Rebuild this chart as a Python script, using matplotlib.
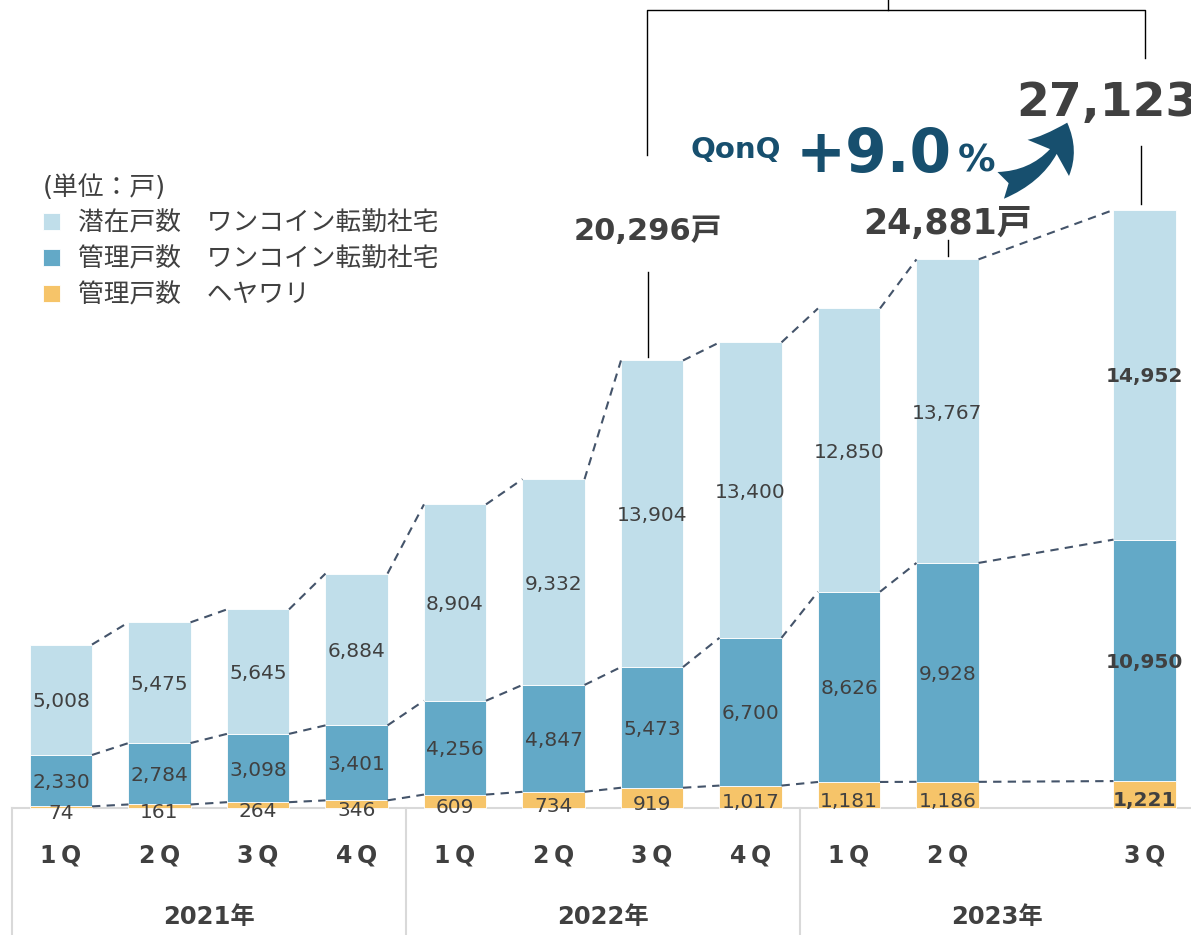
import numpy as np
import matplotlib.pyplot as plt
from matplotlib.patches import FancyArrowPatch

plt.rcParams['font.family'] = ['DejaVu Sans', 'Noto Sans CJK JP']

# data
quarters = ['1Q', '2Q', '3Q', '4Q', '1Q', '2Q', '3Q', '4Q', '1Q', '2Q', '3Q']
slots = np.array([0, 1, 2, 3, 4, 5, 6, 7, 8, 9, 11])
years = ['2021年', '2022年', '2023年']
year_edges = [(-0.5, 3.5), (3.5, 7.5), (7.5, 11.5)]
heyawari = np.array([74, 161, 264, 346, 609, 734, 919, 1017, 1181, 1186, 1221])
kanri = np.array([2330, 2784, 3098, 3401, 4256, 4847, 5473, 6700, 8626, 9928, 10950])
senzai = np.array([5008, 5475, 5645, 6884, 8904, 9332, 13904, 13400, 12850, 13767, 14952])
labels = ['潜在戸数　ワンコイン転勤社宅', '管理戸数　ワンコイン転勤社宅', '管理戸数　ヘヤワリ']

c_light = '#c0deea'
c_mid = '#63a9c7'
c_orange = '#f6c469'
c_text = '#404040'
c_dash = '#44546a'
c_navy = '#174f6e'

W, H = 1191, 935
x0, dxs = 61, 98.5      # pixel of slot 0, pixels per slot
y0, k = 808, 0.02205    # pixel of value 0, pixels per unit


def px(x, y):
    return (x - x0) / dxs, (y0 - y) / k


fig = plt.figure(figsize=(W / 100, H / 100), dpi=100)
ax = fig.add_axes([0, 0, 1, 1])
ax.set_xlim(px(0, 0)[0], px(W, 0)[0])
ax.set_ylim(px(0, H)[1], px(0, 0)[1])
ax.axis('off')

bw = 0.63
b3 = ax.bar(slots, heyawari, bw, color=c_orange, edgecolor='white', lw=0.6, label=labels[2])
b2 = ax.bar(slots, kanri, bw, bottom=heyawari, color=c_mid, edgecolor='white', lw=0.6, label=labels[1])
b1 = ax.bar(slots, senzai, bw, bottom=heyawari + kanri, color=c_light, edgecolor='white', lw=0.6, label=labels[0])

# dashed connectors
lv1 = heyawari
lv2 = heyawari + kanri
lv3 = lv2 + senzai
for lv in (lv1, lv2, lv3):
    for i in range(len(slots) - 1):
        ax.plot([slots[i] + bw / 2, slots[i + 1] - bw / 2], [lv[i], lv[i + 1]],
                color=c_dash, lw=1.5, ls=(0, (4, 3)), zorder=1)

# segment labels
for i, s in enumerate(slots):
    fw = 'bold' if i == len(slots) - 1 else 'normal'
    ax.annotate(f'{heyawari[i]:,}', (s, heyawari[i] / 2), xytext=(0, -3), textcoords='offset points',
                ha='center', va='center_baseline', fontsize=14.5, color=c_text, fontweight=fw)
    ax.text(s, heyawari[i] + kanri[i] / 2, f'{kanri[i]:,}', ha='center', va='center_baseline',
            fontsize=14.5, color=c_text, fontweight=fw)
    ax.text(s, lv2[i] + senzai[i] / 2, f'{senzai[i]:,}', ha='center', va='center_baseline',
            fontsize=14.5, color=c_text, fontweight=fw)

# category table
grey = '#d9d9d9'
ax.plot([year_edges[0][0], year_edges[-1][1]], [0, 0], color=grey, lw=1.5, clip_on=False, zorder=0)
for a, b in year_edges:
    ax.plot([a, a], [0, px(0, H)[1]], color=grey, lw=1.5, zorder=0)
for s, q in zip(slots, quarters):
    ax.text(s, px(0, 855)[1], q[0] + '\u2009' + q[1], ha='center', va='center', fontsize=17,
            fontweight='bold', color=c_text)
for (a, b), yr in zip(year_edges, years):
    ax.text((a + b) / 2, px(0, 917)[1], yr, ha='center', va='center', fontsize=17.5,
            fontweight='bold', color=c_text)

# legend
leg = ax.legend(handles=[b1, b2, b3], loc='upper left', bbox_to_anchor=(30 / W, 1 - 162 / H),
                bbox_transform=fig.transFigure, frameon=False,
                title='(単位：戸)', title_fontsize=18.5, alignment='left',
                handlelength=0.65, handleheight=0.65, handletextpad=0.7, labelspacing=0.38,
                borderpad=0, prop={'family': ['Noto Sans CJK JP'], 'size': 18.5})
leg.get_title().set_color(c_text)
leg.get_title().set_family(['DejaVu Sans', 'Noto Sans CJK JP'])
for t in leg.get_texts():
    t.set_color(c_text)

# total callouts
i6, i9, i10 = 6, 9, 10
xl6 = px(648, 0)[0]
ax.text(xl6, px(0, 240)[1], f'{lv3[i6]:,}戸', ha='center', va='baseline',
        fontsize=22, fontweight='bold', color=c_text)
ax.plot([xl6, xl6], [px(0, 272)[1], lv3[i6] + 150], color='black', lw=1)
ax.text(slots[i9], px(0, 234)[1], f'{lv3[i9]:,}戸', ha='center', va='baseline',
        fontsize=25, fontweight='bold', color=c_text)
ax.plot([slots[i9], slots[i9]], [px(0, 240)[1], lv3[i9] + 150], color='black', lw=1)
ax.text(px(1016, 0)[0], px(0, 116)[1], f'{lv3[i10]:,}', ha='left', va='baseline',
        fontsize=34, fontweight='bold', color=c_text)
ax.plot([px(1141, 0)[0]] * 2, [px(0, 146)[1], lv3[i10] + 250], color='black', lw=1)

# bracket
xa, xb = px(647, 0)[0], px(1145, 0)[0]
ytop = px(0, 10)[1]
ax.plot([xa, xa, xb, xb], [px(0, 155)[1], ytop, ytop, px(0, 58)[1]], color='black', lw=1)
xm = px(888, 0)[0]
ax.plot([xm, xm], [ytop, px(0, -5)[1]], color='black', lw=1, clip_on=False)

# growth
growth = (lv3[i10] / lv3[i9] - 1) * 100
ax.text(px(691, 0)[0], px(0, 158)[1], 'QonQ', ha='left', va='baseline', fontsize=21,
        fontweight='bold', color=c_navy)
ax.text(px(796, 0)[0], px(0, 172)[1], f'+{growth:.1f}', ha='left', va='baseline', fontsize=43,
        fontweight='bold', color=c_navy)
ax.text(px(958, 0)[0], px(0, 172)[1], '%', ha='left', va='baseline', fontsize=27,
        fontweight='bold', color=c_navy)
arr = FancyArrowPatch(px(998, 186), px(1068, 120), connectionstyle='arc3,rad=0.3',
                      arrowstyle='fancy,head_length=0.8,head_width=1.1,tail_width=0.55',
                      mutation_scale=36, color=c_navy, lw=0)
ax.add_patch(arr)

fig.savefig('out.png', dpi=100)
